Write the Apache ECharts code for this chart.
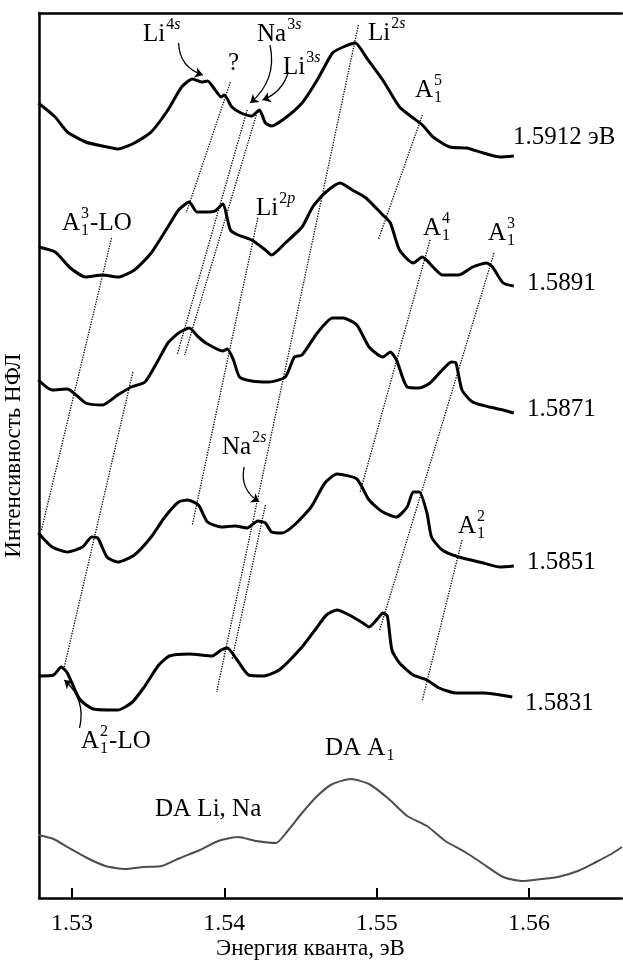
<!DOCTYPE html>
<html>
<head>
<meta charset="utf-8">
<script src="https://cdn.jsdelivr.net/npm/echarts@6/dist/echarts.min.js"></script>
<style>
  html, body { margin: 0; padding: 0; background: #fff; }
  #chart { width: 623px; height: 960px; }
</style>
</head>
<body>
<div id="chart"></div>
<script>
// НФЛ spectra, intensity in arbitrary units (curves stacked with offsets)
const FONT = '"Liberation Serif", "Times New Roman", serif';
const xTicks = [1.53, 1.54, 1.55, 1.56];

// excitation 1.5912 eV
const e5912 = [1.5278, 1.5289, 1.5297, 1.5309, 1.5320, 1.5330, 1.5341, 1.5352, 1.5363, 1.5372, 1.5379, 1.5385, 1.5389, 1.5394, 1.5398, 1.5400, 1.5405, 1.5411, 1.5418, 1.5423, 1.5427, 1.5431, 1.5440, 1.5451, 1.5461, 1.5471, 1.5478, 1.5486, 1.5493, 1.5504, 1.5515, 1.5524, 1.5530, 1.5537, 1.5548, 1.5559, 1.5570, 1.5581, 1.5590];
const i5912 = [795, 781, 766, 756, 752, 749, 755, 766, 788, 811, 819, 816, 817, 808, 801, 803, 791, 785, 782, 788, 775, 772, 780, 795, 818, 845, 851, 855, 841, 818, 791, 780, 773, 761, 751, 750, 745, 741, 742];

// 1.5891 eV
const e5891 = [1.5278, 1.5289, 1.5299, 1.5309, 1.5320, 1.5330, 1.5341, 1.5352, 1.5363, 1.5370, 1.5377, 1.5382, 1.5389, 1.5394, 1.5399, 1.5404, 1.5409, 1.5418, 1.5427, 1.5431, 1.5440, 1.5451, 1.5458, 1.5466, 1.5476, 1.5484, 1.5493, 1.5504, 1.5509, 1.5515, 1.5524, 1.5530, 1.5537, 1.5543, 1.5554, 1.5563, 1.5572, 1.5576, 1.5583, 1.5590];
const i5891 = [651, 646, 630, 621, 623, 621, 628, 645, 671, 688, 696, 686, 686, 687, 694, 668, 663, 658, 648, 643, 655, 671, 691, 705, 715, 708, 700, 683, 675, 648, 635, 641, 631, 623, 623, 631, 635, 631, 615, 612];

// 1.5871 eV
const e5871 = [1.5278, 1.5287, 1.5297, 1.5309, 1.5320, 1.5330, 1.5339, 1.5348, 1.5356, 1.5363, 1.5370, 1.5377, 1.5383, 1.5389, 1.5399, 1.5402, 1.5406, 1.5410, 1.5418, 1.5429, 1.5440, 1.5446, 1.5451, 1.5461, 1.5471, 1.5478, 1.5487, 1.5495, 1.5504, 1.5509, 1.5513, 1.5520, 1.5528, 1.5535, 1.5543, 1.5549, 1.5552, 1.5556, 1.5563, 1.5574, 1.5583, 1.5590];
const i5871 = [518, 508, 509, 495, 493, 503, 511, 516, 536, 555, 565, 570, 561, 554, 547, 549, 538, 521, 517, 516, 521, 541, 543, 565, 580, 580, 573, 551, 541, 546, 538, 511, 510, 515, 528, 536, 535, 508, 496, 491, 488, 485];

// 1.5851 eV
const e5851 = [1.5278, 1.5287, 1.5297, 1.5307, 1.5313, 1.5317, 1.5323, 1.5330, 1.5341, 1.5352, 1.5361, 1.5370, 1.5376, 1.5383, 1.5389, 1.5398, 1.5407, 1.5415, 1.5422, 1.5427, 1.5431, 1.5438, 1.5446, 1.5457, 1.5466, 1.5474, 1.5487, 1.5495, 1.5504, 1.5513, 1.5520, 1.5524, 1.5528, 1.5533, 1.5536, 1.5543, 1.5554, 1.5570, 1.5581, 1.5590];
const i5851 = [365, 351, 346, 351, 361, 360, 341, 336, 343, 361, 381, 396, 398, 393, 376, 371, 372, 370, 377, 375, 366, 365, 373, 391, 415, 424, 419, 398, 386, 381, 391, 406, 406, 385, 361, 348, 341, 335, 331, 332];

// 1.5831 eV
const e5831 = [1.5278, 1.5288, 1.5293, 1.5297, 1.5305, 1.5314, 1.5330, 1.5339, 1.5347, 1.5357, 1.5364, 1.5377, 1.5392, 1.5398, 1.5402, 1.5408, 1.5416, 1.5426, 1.5436, 1.5451, 1.5461, 1.5467, 1.5474, 1.5482, 1.5491, 1.5495, 1.5501, 1.5504, 1.5507, 1.5510, 1.5515, 1.5524, 1.5533, 1.5541, 1.5552, 1.5570, 1.5589];
const i5831 = [222, 223, 231, 225, 199, 189, 188, 195, 210, 233, 242, 244, 242, 248, 250, 239, 223, 222, 228, 251, 271, 283, 288, 283, 275, 271, 280, 285, 282, 248, 235, 223, 218, 210, 205, 205, 201];

// DA bands (grey)
const eDA = [1.5278, 1.5288, 1.5297, 1.5310, 1.5322, 1.5335, 1.5347, 1.5359, 1.5371, 1.5384, 1.5396, 1.5409, 1.5421, 1.5434, 1.5441, 1.5451, 1.5461, 1.5471, 1.5483, 1.5495, 1.5508, 1.5520, 1.5533, 1.5545, 1.5558, 1.5570, 1.5583, 1.5595, 1.5608, 1.5619, 1.5632, 1.5644, 1.5654, 1.5661];
const iDA = [63, 59, 51, 40, 32, 29, 31, 32, 40, 48, 57, 61, 57, 55, 66, 85, 102, 114, 119, 114, 99, 82, 72, 57, 46, 34, 21, 17, 19, 21, 27, 36, 44, 51];

// dotted guide lines: start / end
const guideFrom = [[1.5404, 816], [1.5415, 788], [1.5421, 783], [1.5422, 680], [1.5488, 873], [1.5427, 393], [1.5326, 660], [1.5340, 526], [1.5530, 783], [1.5535, 658], [1.5577, 645], [1.5556, 358]];
const guideTo   = [[1.5375, 685], [1.5369, 543], [1.5374, 543], [1.5379, 373], [1.5395, 206], [1.5405, 238], [1.5280, 368], [1.5295, 231], [1.5501, 658], [1.5489, 405], [1.5502, 268], [1.5530, 198]];

// curved arrows: start / end / curveness
const arrowFrom = [[1.5370, 855], [1.5430, 853], [1.5442, 826], [1.5413, 431], [1.5305, 170]];
const arrowTo   = [[1.5386, 823], [1.5417, 795], [1.5425, 798], [1.5423, 396], [1.5295, 218]];
const arrowBend = [-0.35, 0.3, 0.25, -0.35, -0.3];

const zip = (xs, ys) => xs.map((x, k) => [x, ys[k]]);

const ctx = document.createElement('canvas').getContext('2d');
function tw(s, font) { ctx.font = font; return ctx.measureText(s).width; }
const BIG = '25px ' + FONT;
const SM = '16px ' + FONT;
const SMI = 'italic 16px ' + FONT;

function txt(x, y, s, font) {
  return { type: 'text', x: x, y: y, style: { text: s, font: font, fill: '#000', textAlign: 'left', textVerticalAlign: 'middle', align: 'left', verticalAlign: 'middle' } };
}
// base text with superscript (digits upright, letters italic), subscript and tail
function note(x, y, base, sup, sub, tail) {
  const kids = [txt(0, 0, base, BIG)];
  const w = tw(base, BIG) + 1;
  let supW = 0;
  if (sup) {
    const num = sup.replace(/[a-z]+$/, '');
    const let_ = sup.slice(num.length);
    kids.push(txt(w, -9, num, SM));
    const nw = tw(num, SM);
    if (let_) kids.push(txt(w + nw, -9, let_, SMI));
    supW = nw + (let_ ? tw(let_, SMI) : 0);
  }
  let subW = 0;
  if (sub) { kids.push(txt(w, 8, sub, SM)); subW = tw(sub, SM); }
  if (tail) kids.push(txt(w + Math.max(supW, subW) + 1, 0, tail, BIG));
  return { type: 'group', x: x, y: y, silent: true, children: kids };
}

const notes = [
  [143, 34, 'Li', '4s', '', ''],
  [228, 63, '?', '', '', ''],
  [257, 34, 'Na', '3s', '', ''],
  [283, 67, 'Li', '3s', '', ''],
  [368, 33, 'Li', '2s', '', ''],
  [415, 90, 'A', '5', '1', ''],
  [513, 137, '1.5912 эВ', '', '', ''],
  [62, 223, 'A', '3', '1', '-LO'],
  [256, 208, 'Li', '2p', '', ''],
  [423, 228, 'A', '4', '1', ''],
  [488, 233, 'A', '3', '1', ''],
  [527, 283, '1.5891', '', '', ''],
  [527, 409, '1.5871', '', '', ''],
  [222, 447, 'Na', '2s', '', ''],
  [458, 526, 'A', '2', '1', ''],
  [527, 562, '1.5851', '', '', ''],
  [525, 703, '1.5831', '', '', ''],
  [81, 741, 'A', '2', '1', '-LO'],
  [325, 748, 'DA A', '', '1', ''],
  [155, 809, 'DA Li, Na', '', '', '']
];

const curve = (e, i, color, width) => ({
  type: 'line', data: zip(e, i), showSymbol: false, smooth: 0.2, silent: true,
  lineStyle: { color: color, width: width }
});

const chart = echarts.init(document.getElementById('chart'));
chart.setOption({
  animation: false,
  backgroundColor: '#fff',
  grid: { left: 39, right: 1, top: 13, bottom: 62, outerBoundsMode: 'none', containLabel: false },
  xAxis: [{
    type: 'value', min: 1.52784, max: 1.5661, position: 'bottom',
    name: 'Энергия кванта, эВ', nameLocation: 'middle', nameGap: 39, nameMoveOverlap: false,
    nameTextStyle: { fontFamily: FONT, fontSize: 23, color: '#000', padding: [0, 40, 0, 0] },
    axisLine: { lineStyle: { color: '#000', width: 2.5 } },
    axisTick: { inside: true, length: 10, customValues: xTicks, lineStyle: { color: '#000', width: 2 } },
    axisLabel: { customValues: xTicks, formatter: v => v.toFixed(2), fontFamily: FONT, fontSize: 24, color: '#000', margin: 14 },
    splitLine: { show: false }
  }, {
    type: 'value', min: 1.52784, max: 1.5661, position: 'top',
    axisLine: { show: true, lineStyle: { color: '#000', width: 2.5 } },
    axisTick: { show: false }, axisLabel: { show: false }, splitLine: { show: false }
  }],
  yAxis: {
    type: 'value', min: 0, max: 885,
    name: 'Интенсивность НФЛ', nameLocation: 'middle', nameGap: 14, nameRotate: 90,
    nameTextStyle: { fontFamily: FONT, fontSize: 23, color: '#000' },
    axisLine: { show: true, lineStyle: { color: '#000', width: 2.5 } },
    axisTick: { show: false }, axisLabel: { show: false }, splitLine: { show: false }
  },
  series: [
    curve(e5912, i5912, '#000', 3),
    curve(e5891, i5891, '#000', 3),
    curve(e5871, i5871, '#000', 3),
    curve(e5851, i5851, '#000', 3),
    curve(e5831, i5831, '#000', 3),
    curve(eDA, iDA, '#4d4d4d', 2),
    {
      type: 'lines', coordinateSystem: 'cartesian2d', silent: true, symbol: 'none',
      lineStyle: { color: '#000', width: 1.3, type: 'dotted', curveness: 0, opacity: 1 },
      data: guideFrom.map((p, k) => ({ coords: [p, guideTo[k]] }))
    },
    {
      type: 'lines', coordinateSystem: 'cartesian2d', silent: true,
      symbol: ['none', 'arrow'], symbolSize: 8,
      lineStyle: { color: '#000', width: 1.3, opacity: 1 },
      data: arrowFrom.map((p, k) => ({ coords: [p, arrowTo[k]], lineStyle: { curveness: arrowBend[k] } }))
    }
  ],
  graphic: notes.map(n => note(n[0], n[1], n[2], n[3], n[4], n[5]))
});
</script>
</body>
</html>
